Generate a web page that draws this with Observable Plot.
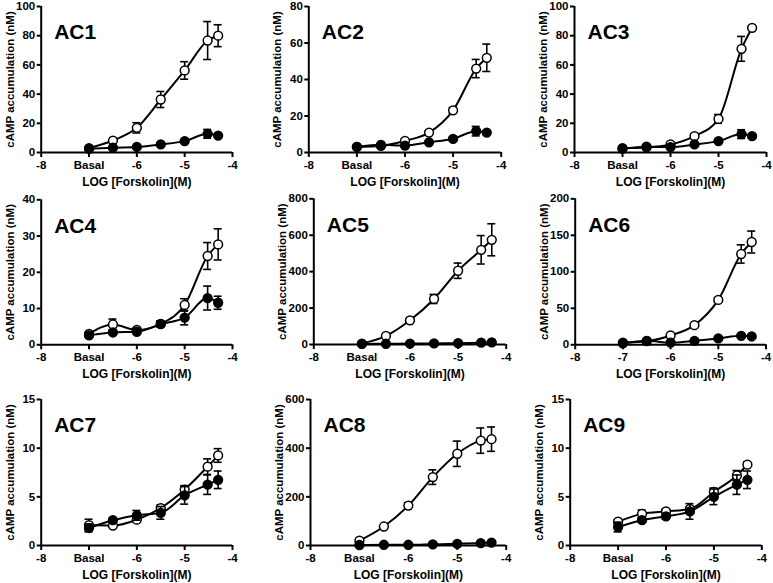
<!DOCTYPE html>
<html><head><meta charset="utf-8">
<script src="https://cdn.jsdelivr.net/npm/d3@7"></script>
<script src="https://cdn.jsdelivr.net/npm/@observablehq/plot@0.6"></script>
<style>
body{margin:0;background:#fff;}
#wrap{position:relative;width:773px;height:583px;overflow:hidden;background:#fff;}
.panel{position:absolute;}
.panel svg{overflow:visible;}
</style></head><body><div id="wrap"></div>
<script>
// ---- data ----
const logForskolin = [-7, -6.5, -6, -5.5, -5, -4.52, -4.3];
const panelNames = ["AC1","AC2","AC3","AC4","AC5","AC6","AC7","AC8","AC9"];
const yMax  = [100, 80, 100, 40, 800, 200, 15, 600, 15];
const yStep = [20, 20, 20, 10, 200, 50, 5, 200, 5];
const xTicks = [-8, -7, -6, -5, -4];
const xTickLabels = ["-8", "Basal", "-6", "-5", "-4"];
const xTickLabelsAC6 = ["-8", "-7", "-6", "-5", "-4"];
const yLabel = "cAMP accumulation (nM)";
const xLabel = "LOG [Forskolin](M)";

const AC1_open = [3, 8.2, 16.9, 36.3, 56.2, 76.7, 80];
const AC1_openErr = [0.5, 0.5, 3.5, 5.5, 6, 13, 7.5];
const AC1_filled = [2.5, 3.3, 3.8, 5.5, 7.8, 12.8, 11.6];
const AC1_filledErr = [0.5, 0.5, 0.5, 0.8, 1, 3, 1];

const AC2_open = [3.1, 3.6, 6.4, 10.9, 23.1, 46, 51.9];
const AC2_openErr = [0.3, 0.3, 0.8, 1, 1.5, 5, 7.5];
const AC2_filled = [3.1, 4.2, 3.8, 5.6, 7.5, 11.7, 10.9];
const AC2_filledErr = [0.3, 0.5, 0.5, 0.5, 1, 2.6, 1];

const AC3_open = [3, 3.5, 5.5, 11.2, 23, 71, 85.4];
const AC3_openErr = [0.3, 0.3, 1, 1.5, 3, 8.5, 1];
const AC3_filled = [2.5, 4, 3.7, 5.5, 7.8, 12.6, 11.2];
const AC3_filledErr = [0.3, 0.5, 0.5, 0.5, 1, 3, 1];

const AC4_open = [3, 5.6, 4.1, 5.8, 11, 24.5, 27.7];
const AC4_openErr = [0.3, 1.5, 0.5, 0.8, 1.7, 3.7, 4.3];
const AC4_filled = [2.6, 3.4, 3.6, 5.7, 7.5, 12.9, 11.6];
const AC4_filledErr = [0.3, 0.4, 0.5, 0.8, 2, 3.3, 1.8];

const AC5_open = [5, 47, 133, 250, 405, 520, 575];
const AC5_openErr = [2, 5, 10, 25, 42, 78, 88];
const AC5_filled = [3, 4, 5, 6, 7, 10, 12];
const AC5_filledErr = [1, 1, 1, 1, 1, 2, 2];

const AC6_open = [3, 5, 12.8, 26.9, 61.5, 124.4, 140.8];
const AC6_openErr = [0.5, 0.5, 1, 2, 3, 12.5, 15];
const AC6_filled = [2, 5.5, 3, 5.5, 8.7, 12.3, 11.4];
const AC6_filledErr = [0.5, 0.5, 0.5, 0.5, 1, 1.5, 1];

const AC7_open = [2.1, 2.05, 2.65, 3.85, 5.75, 8.1, 9.25];
const AC7_openErr = [0.6, 0.15, 0.2, 0.3, 0.4, 0.8, 0.7];
const AC7_filled = [1.8, 2.6, 3.1, 3.35, 5.15, 6.25, 6.75];
const AC7_filledErr = [0.4, 0.2, 0.5, 0.65, 0.9, 1, 0.9];

const AC8_open = [20, 78, 164, 281, 377, 431, 437];
const AC8_openErr = [3, 5, 12, 30, 52, 52, 50];
const AC8_filled = [2, 3, 3, 5, 7, 10, 12];
const AC8_filledErr = [1, 1, 1, 1, 1, 2, 2];

const AC9_open = [2.45, 3.25, 3.5, 3.75, 5.5, 7.2, 8.3];
const AC9_openErr = [0.2, 0.4, 0.2, 0.2, 0.4, 0.5, 0.3];
const AC9_filled = [1.9, 2.6, 3.0, 3.5, 5.0, 6.25, 6.75];
const AC9_filledErr = [0.5, 0.2, 0.3, 0.8, 0.8, 1, 0.9];

const openSeries = [AC1_open, AC2_open, AC3_open, AC4_open, AC5_open, AC6_open, AC7_open, AC8_open, AC9_open];
const openErrs = [AC1_openErr, AC2_openErr, AC3_openErr, AC4_openErr, AC5_openErr, AC6_openErr, AC7_openErr, AC8_openErr, AC9_openErr];
const filledSeries = [AC1_filled, AC2_filled, AC3_filled, AC4_filled, AC5_filled, AC6_filled, AC7_filled, AC8_filled, AC9_filled];
const filledErrs = [AC1_filledErr, AC2_filledErr, AC3_filledErr, AC4_filledErr, AC5_filledErr, AC6_filledErr, AC7_filledErr, AC8_filledErr, AC9_filledErr];

// ---- layout (pixels) ----
const colLeft = [0, 258, 513];
const colWidth = [258, 255, 260];
const rowTop = [0, 190, 385];
const rowHeight = [190, 195, 198];
// [yAxisX, xAt-4, yTop, yZero]
const frames = [
  [40.7, 232, 6, 152], [308.3, 500.7, 6, 152], [574, 766, 6, 152],
  [40.7, 232, 199.3, 344.3], [313.3, 505.7, 198.3, 344], [574.7, 765.5, 198.3, 344.3],
  [40.7, 232, 399, 545], [310, 505.7, 399, 545], [569.7, 761.3, 399, 545]
];

const wrap = document.getElementById("wrap");

function rows(ys, es) {
  return logForskolin.map((x, k) => ({x, y: ys[k], e: es[k]}));
}

function seriesMarks(data, fill, cap) {
  return [
    Plot.ruleX(data, {x: "x", y1: d => d.y - d.e, y2: d => d.y + d.e, stroke: "black", strokeWidth: 1.6}),
    Plot.ruleY(data, {y: d => d.y + d.e, x1: d => d.x - cap, x2: d => d.x + cap, stroke: "black", strokeWidth: 1.6}),
    Plot.ruleY(data, {y: d => d.y - d.e, x1: d => d.x - cap, x2: d => d.x + cap, stroke: "black", strokeWidth: 1.6}),
    Plot.line(data, {x: "x", y: "y", curve: "monotone-x", stroke: "black", strokeWidth: 2}),
    Plot.dot(data, {x: "x", y: "y", r: 4.4, fill, stroke: "black", strokeWidth: 1.5})
  ];
}

panelNames.forEach((name, i) => {
  const c = i % 3, r = Math.floor(i / 3);
  const left = colLeft[c], top = rowTop[r], W = colWidth[c], H = rowHeight[r];
  const [ax, xr, yt, yb] = frames[i];
  const ppu = (xr - ax) / 4;
  const cap = 4 / ppu;
  const labels = i === 5 ? xTickLabelsAC6 : xTickLabels;
  const labelMap = new Map(xTicks.map((t, k) => [t, labels[k]]));
  const yTicks = d3.range(0, yMax[i] + yStep[i] / 2, yStep[i]);
  const openData = rows(openSeries[i], openErrs[i]);
  const filledData = rows(filledSeries[i], filledErrs[i]);

  const chart = Plot.plot({
    width: W, height: H,
    marginLeft: ax - left, marginRight: left + W - xr,
    marginTop: yt - top, marginBottom: top + H - yb,
    x: {domain: [-8, -4]},
    y: {domain: [0, yMax[i]]},
    style: {fontFamily: "'Liberation Sans', Arial, sans-serif", fontSize: "11.5px", fontWeight: "bold", background: "transparent", color: "black"},
    marks: [
      Plot.axisX({ticks: xTicks, tickFormat: d => labelMap.get(d), tickSize: 5, tickPadding: 3, strokeWidth: 2, label: null, fill: "black"}),
      Plot.axisY({ticks: yTicks, tickFormat: d => String(d), tickSize: 4, tickPadding: 2, strokeWidth: 2, label: null, fill: "black"}),
      Plot.ruleY([0], {stroke: "black", strokeWidth: 2}),
      Plot.ruleX([-8], {stroke: "black", strokeWidth: 2}),
      ...seriesMarks(openData, "white", cap),
      ...seriesMarks(filledData, "black", cap),
      Plot.text([name], {text: d => d, frameAnchor: "top-left", textAnchor: "start", lineAnchor: "top", dx: 13, dy: 18, fontSize: 21, fontWeight: "bold", fill: "black"}),
      Plot.text([yLabel], {text: d => d, frameAnchor: "left", rotate: -90, textAnchor: "middle", lineAnchor: "middle", dx: -31, fontSize: 11.5, fontWeight: "bold", fill: "black"}),
      Plot.text([xLabel], {text: d => d, frameAnchor: "bottom", textAnchor: "middle", lineAnchor: "top", dy: 25, fontSize: 12, fontWeight: "bold", fill: "black"})
    ]
  });
  const div = document.createElement("div");
  div.className = "panel";
  div.style.left = left + "px";
  div.style.top = top + "px";
  div.appendChild(chart);
  wrap.appendChild(div);
});
</script></body></html>
